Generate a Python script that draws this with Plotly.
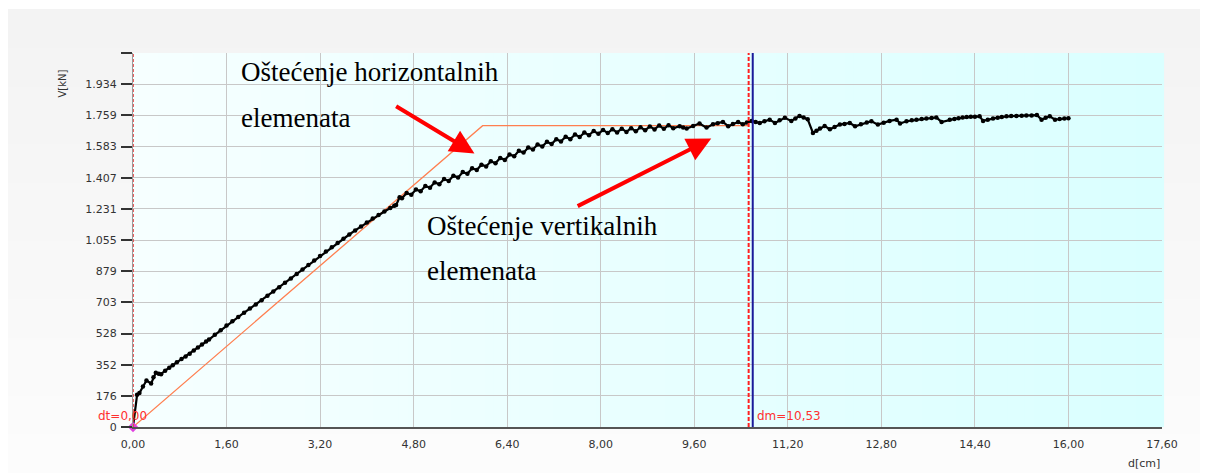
import plotly.graph_objects as go

# Measured shear force V [kN] against top displacement d [cm]
d_cm = [
    0.00, 0.07, 0.11, 0.17, 0.23, 0.31, 0.35, 0.39, 0.44, 0.48, 0.55, 0.62, 0.68, 0.75, 0.83,
    0.90, 0.97, 1.04, 1.11, 1.18, 1.25,
    1.30, 1.40, 1.50, 1.60, 1.70, 1.80, 1.90, 2.00, 2.10, 2.20, 2.30, 2.40, 2.50, 2.60, 2.70,
    2.80, 2.90, 3.00, 3.10, 3.20, 3.30, 3.40, 3.50, 3.60, 3.70, 3.80, 3.90, 4.00, 4.10, 4.20,
    4.30, 4.40, 4.47, 4.50, 4.56,
    4.60, 4.68, 4.76, 4.84, 4.92, 5.00, 5.08, 5.16, 5.24, 5.32, 5.40, 5.48, 5.56, 5.64, 5.72,
    5.80, 5.88, 5.96, 6.04, 6.12, 6.20, 6.28, 6.36, 6.44, 6.52, 6.60, 6.68, 6.76, 6.84, 6.92,
    7.00, 7.08, 7.16, 7.24, 7.32, 7.40, 7.48, 7.56, 7.64, 7.72, 7.80, 7.88, 7.96, 8.04, 8.12,
    8.20, 8.28, 8.36, 8.44, 8.52, 8.60, 8.68, 8.76, 8.84, 8.92, 9.00, 9.08, 9.16, 9.24,
    9.35, 9.41, 9.47, 9.58, 9.69, 9.81, 9.92, 10.00, 10.09, 10.18, 10.26, 10.35, 10.43, 10.50,
    10.58, 10.65, 10.72, 10.80, 10.89, 10.98, 11.06, 11.15, 11.26, 11.33, 11.40, 11.47, 11.54,
    11.63, 11.69, 11.75, 11.83, 11.92, 12.00, 12.09, 12.17, 12.26, 12.35, 12.45, 12.55, 12.63,
    12.74, 12.84, 12.94, 13.06, 13.12, 13.23, 13.32, 13.40, 13.49, 13.57, 13.66, 13.74, 13.83,
    13.97, 14.05, 14.12, 14.19, 14.26, 14.33, 14.40, 14.48, 14.54, 14.62, 14.71, 14.79, 14.86,
    14.94, 15.02, 15.11, 15.20, 15.28, 15.37, 15.46, 15.54, 15.61, 15.68, 15.77, 15.85, 15.93,
    16.00,
]
v_kn = [
    0, 182, 192, 228, 262, 246, 280, 306, 300, 298, 318, 334, 349, 365, 383,
    398, 413, 431, 448, 465, 482,
    493, 520, 546, 572, 597, 621, 645, 668, 691, 715, 741, 765, 789, 814, 838,
    863, 889, 914, 939, 965, 990, 1014, 1038, 1062, 1086, 1109, 1131, 1154, 1176, 1196,
    1216, 1235, 1248, 1252, 1296,
    1290, 1320, 1310, 1340, 1330, 1360, 1350, 1380, 1370, 1399, 1388, 1418, 1407, 1438, 1429,
    1460, 1450, 1480, 1470, 1499, 1488, 1518, 1507, 1537, 1528, 1558, 1548, 1577, 1566, 1594,
    1582, 1609, 1596, 1624, 1611, 1638, 1624, 1650, 1636, 1661, 1646, 1670, 1654, 1676, 1658,
    1680, 1662, 1683, 1665, 1686, 1668, 1691, 1674, 1696, 1679, 1701, 1682, 1703, 1685,
    1697, 1690, 1684, 1698, 1712, 1689, 1708, 1714, 1721, 1697, 1709, 1721, 1708, 1718,
    1727, 1721, 1715, 1725, 1734, 1715, 1730, 1744, 1727, 1741, 1755, 1746, 1736,
    1659, 1672, 1684, 1698, 1680, 1693, 1706, 1710, 1715, 1697, 1708, 1718, 1725,
    1706, 1717, 1727, 1734, 1712, 1725, 1730, 1734, 1737, 1740, 1743, 1746, 1721,
    1734, 1738, 1742, 1746, 1749, 1750, 1751, 1753, 1727, 1734, 1740, 1745, 1749,
    1753, 1754, 1755, 1756, 1757, 1758, 1760, 1734, 1744, 1753, 1734, 1737, 1740,
    1742,
]

# Idealised bilinear envelope
bilin_d = [0.00, 5.98, 10.53]
bilin_v = [0, 1700, 1700]

# Markers
dt_value = 0.00
dm_value = 10.53
cursor_d = 10.60

# Axis ticks
x_tickvals = [0.0, 1.6, 3.2, 4.8, 6.4, 8.0, 9.6, 11.2, 12.8, 14.4, 16.0, 17.6]
x_ticktext = ["0,00", "1,60", "3,20", "4,80", "6,40", "8,00", "9,60", "11,20",
              "12,80", "14,40", "16,00", "17,60"]
y_tickvals = [0, 175.8, 351.7, 527.5, 703.3, 879.2, 1055, 1230.8, 1406.7, 1582.5,
              1758.3, 1934.2, 2110]
y_ticktext = ["0", "176", "352", "528", "703", "879", "1.055", "1.231", "1.407",
              "1.583", "1.759", "1.934", ""]
X_MAX = 17.6
Y_MAX = 2110

W, H = 1208, 473
L, R, T, B = 133, 46, 53, 46
PW, PH = W - L - R, H - T - B


def px_to_paper_x(px):
    return (px - L) / PW


def px_to_paper_y(py):
    return (H - B - py) / PH


def lerp_hex(c0, c1, t):
    a = [int(c0[i:i + 2], 16) for i in (1, 3, 5)]
    b = [int(c1[i:i + 2], 16) for i in (1, 3, 5)]
    return "#" + "".join(f"{round(a[k] + (b[k] - a[k]) * t):02x}" for k in range(3))


shapes = []

# Grey panel behind the chart, slightly lighter towards the bottom
n_panel = 24
for i in range(n_panel):
    y0 = 9 + (H - 9) * i / n_panel
    y1 = 9 + (H - 9) * (i + 1) / n_panel + 1
    shapes.append(dict(type="rect", xref="paper", yref="paper", layer="below",
                       x0=px_to_paper_x(8), x1=px_to_paper_x(1200),
                       y0=px_to_paper_y(y1), y1=px_to_paper_y(y0),
                       fillcolor=lerp_hex("#f3f3f3", "#fcfcfc", i / (n_panel - 1)),
                       line_width=0))

# Plot-area background: pale cyan, deepening to the right
n_bg = 120
for i in range(n_bg):
    shapes.append(dict(type="rect", xref="paper", yref="paper", layer="below",
                       x0=i / n_bg, x1=(i + 1) / n_bg + 0.002, y0=0, y1=1,
                       fillcolor=lerp_hex("#f6ffff", "#daffff", i / (n_bg - 1)),
                       line_width=0))

# dt cursor on the left axis
shapes.append(dict(type="line", xref="x", yref="y", x0=dt_value, x1=dt_value, y0=0, y1=Y_MAX,
                   line=dict(color="#e83a3a", width=1.6, dash="3px,2px")))
# dm line and the moving cursor
shapes.append(dict(type="line", xref="x", yref="y", x0=dm_value, x1=dm_value, y0=0, y1=Y_MAX,
                   line=dict(color="#ff2020", width=2, dash="4px,2px")))
shapes.append(dict(type="line", xref="x", yref="y", x0=cursor_d, x1=cursor_d, y0=0, y1=Y_MAX,
                   line=dict(color="#1a1a9a", width=2)))

fig = go.Figure()

fig.add_trace(go.Scatter(x=bilin_d, y=bilin_v, mode="lines",
                         line=dict(color="#ff7f50", width=1.3),
                         hoverinfo="skip", showlegend=False))
fig.add_trace(go.Scatter(x=d_cm, y=v_kn, mode="lines+markers",
                         line=dict(color="#000000", width=2.2),
                         marker=dict(color="#000000", size=4.5),
                         showlegend=False))
fig.add_trace(go.Scatter(x=[dt_value], y=[0], mode="markers",
                         marker=dict(color="#e040e0", size=8, symbol="diamond"),
                         cliponaxis=False, showlegend=False))

serif = dict(family="Liberation Serif, Times New Roman, serif", size=27, color="#000000")
small = dict(family="Tahoma, DejaVu Sans, sans-serif", size=11, color="#333333")
cursor_font = dict(family="Tahoma, DejaVu Sans, sans-serif", size=12, color="#ff3030")

annotations = [
    dict(x=1.82, y=2001, xref="x", yref="y", text="Oštećenje horizontalnih",
         showarrow=False, xanchor="left", yanchor="middle", font=serif),
    dict(x=1.82, y=1742, xref="x", yref="y", text="elemenata",
         showarrow=False, xanchor="left", yanchor="middle", font=serif),
    dict(x=4.99, y=1133, xref="x", yref="y", text="Oštećenje vertikalnih",
         showarrow=False, xanchor="left", yanchor="middle", font=serif),
    dict(x=4.99, y=879, xref="x", yref="y", text="elemenata",
         showarrow=False, xanchor="left", yanchor="middle", font=serif),
    # red arrows
    dict(x=5.84, y=1543, ax=4.475, ay=1815, xref="x", yref="y", axref="x", ayref="y",
         text="", showarrow=True, arrowhead=2, arrowsize=1.2, arrowwidth=4,
         arrowcolor="#ff0000"),
    dict(x=9.89, y=1627, ax=7.58, ay=1242, xref="x", yref="y", axref="x", ayref="y",
         text="", showarrow=True, arrowhead=2, arrowsize=1.2, arrowwidth=4,
         arrowcolor="#ff0000"),
    # cursor labels
    dict(x=dt_value, y=0, xref="x", yref="y", text="dt=0,00", showarrow=False,
         xanchor="center", yanchor="bottom", xshift=-11, yshift=2, font=cursor_font),
    dict(x=dm_value, y=0, xref="x", yref="y", text="dm=10,53", showarrow=False,
         xanchor="left", yanchor="bottom", xshift=6, yshift=2, font=cursor_font),
    # axis titles
    dict(x=px_to_paper_x(69), y=px_to_paper_y(68), xref="paper", yref="paper",
         text="V[kN]", textangle=-90, showarrow=False, xanchor="right", yanchor="top",
         font=dict(small, size=10)),
    dict(x=px_to_paper_x(1162), y=px_to_paper_y(472), xref="paper", yref="paper",
         text="d[cm]", showarrow=False, xanchor="right", yanchor="bottom", font=small),
]

fig.update_layout(
    width=W, height=H,
    margin=dict(l=L, r=R, t=T, b=B, pad=0),
    paper_bgcolor="#ffffff",
    plot_bgcolor="rgba(0,0,0,0)",
    shapes=shapes,
    annotations=annotations,
    xaxis=dict(range=[0, X_MAX], tickvals=x_tickvals, ticktext=x_ticktext,
               showgrid=True, gridcolor="#c8c8c8", gridwidth=1,
               zeroline=False, showline=True, linecolor="#555555", linewidth=1.5,
               ticks="", ticklabelstandoff=6, tickfont=small, fixedrange=True),
    yaxis=dict(range=[0, Y_MAX], tickvals=y_tickvals, ticktext=y_ticktext,
               showgrid=True, gridcolor="#c8c8c8", gridwidth=1,
               zeroline=False, showline=True, linecolor="#9a9a9a", linewidth=1,
               ticks="outside", ticklen=11, tickwidth=1.6, tickcolor="#333333",
               ticklabelstandoff=2, tickfont=small, fixedrange=True),
    hovermode=False,
)

fig.write_html("out.html", config={"displayModeBar": False})
